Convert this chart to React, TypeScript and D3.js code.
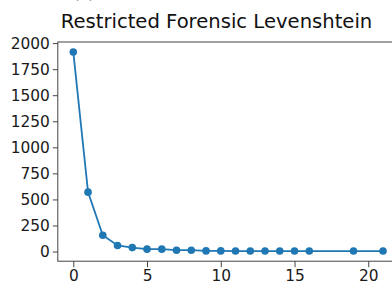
import { useEffect, useRef } from 'react';
import * as d3 from 'd3';

const title = 'Restricted Forensic Levenshtein';
const panelLabel = '(a)';
const xs = [0, 1, 2, 3, 4, 5, 6, 7, 8, 9, 10, 11, 12, 13, 14, 15, 16, 19, 21];
const counts = [1915, 570, 157, 58, 38, 23, 23, 13, 13, 6, 6, 5, 5, 5, 5, 5, 5, 5, 5];
const yTicks = [0, 250, 500, 750, 1000, 1250, 1500, 1750, 2000];
const xTicks = [0, 5, 10, 15, 20];

const W = 392;
const H = 281;
const FONT = 'DejaVu Sans, sans-serif';

function App() {
  const svgRef = useRef(null);

  useEffect(() => {
    const svg = d3.select(svgRef.current);
    svg.selectAll('*').remove();

    const margin = { top: 42, right: -6.5, bottom: 19.8, left: 57.8 };
    const innerW = W - margin.left - margin.right;
    const innerH = H - margin.top - margin.bottom;

    const x = d3.scaleLinear().domain([-1.05, 22.05]).range([0, innerW]);
    const y = d3.scaleLinear().domain([-92.6, 2010.6]).range([innerH, 0]);

    const g = svg.append('g')
      .attr('transform', `translate(${margin.left},${margin.top})`);

    // frame (right side falls outside the picture)
    g.append('rect')
      .attr('x', 0).attr('y', 0)
      .attr('width', innerW).attr('height', innerH)
      .attr('fill', 'none')
      .attr('stroke', '#444')
      .attr('stroke-width', 1);

    const xAxis = g.append('g')
      .attr('transform', `translate(0,${innerH})`)
      .call(d3.axisBottom(x).tickValues(xTicks).tickSize(6).tickPadding(2.5).tickFormat(d3.format('d')));
    xAxis.select('.domain').remove();

    const yAxis = g.append('g')
      .call(d3.axisLeft(y).tickValues(yTicks).tickSize(5).tickPadding(3).tickFormat(d3.format('d')));
    yAxis.select('.domain').remove();

    [xAxis, yAxis].forEach(ax => {
      ax.selectAll('line').attr('stroke', '#444');
      ax.selectAll('text')
        .attr('font-family', FONT)
        .attr('font-size', '15.4px')
        .attr('fill', '#1a1a1a');
    });

    const pts = xs.map((v, i) => [v, counts[i]]);

    g.append('path')
      .datum(pts)
      .attr('fill', 'none')
      .attr('stroke', '#1f77b4')
      .attr('stroke-width', 1.8)
      .attr('d', d3.line().x(d => x(d[0])).y(d => y(d[1])));

    g.selectAll('.dot')
      .data(pts)
      .enter()
      .append('circle')
      .attr('class', 'dot')
      .attr('cx', d => x(d[0]))
      .attr('cy', d => y(d[1]))
      .attr('r', 3.8)
      .attr('fill', '#1f77b4');

    svg.append('text')
      .attr('x', 216.5)
      .attr('y', 27.5)
      .attr('text-anchor', 'middle')
      .attr('font-family', FONT)
      .attr('font-size', '19.6px')
      .attr('fill', '#111')
      .text(title);

    svg.append('text')
      .attr('x', 84)
      .attr('y', -2)
      .attr('text-anchor', 'middle')
      .attr('font-family', FONT)
      .attr('font-size', '15px')
      .attr('fill', '#111')
      .text(panelLabel);
  }, []);

  return (
    <svg
      ref={svgRef}
      width={W}
      height={H}
      style={{ position: 'absolute', left: 0, top: 0, background: '#fff' }}
    />
  );
}

export default App;
